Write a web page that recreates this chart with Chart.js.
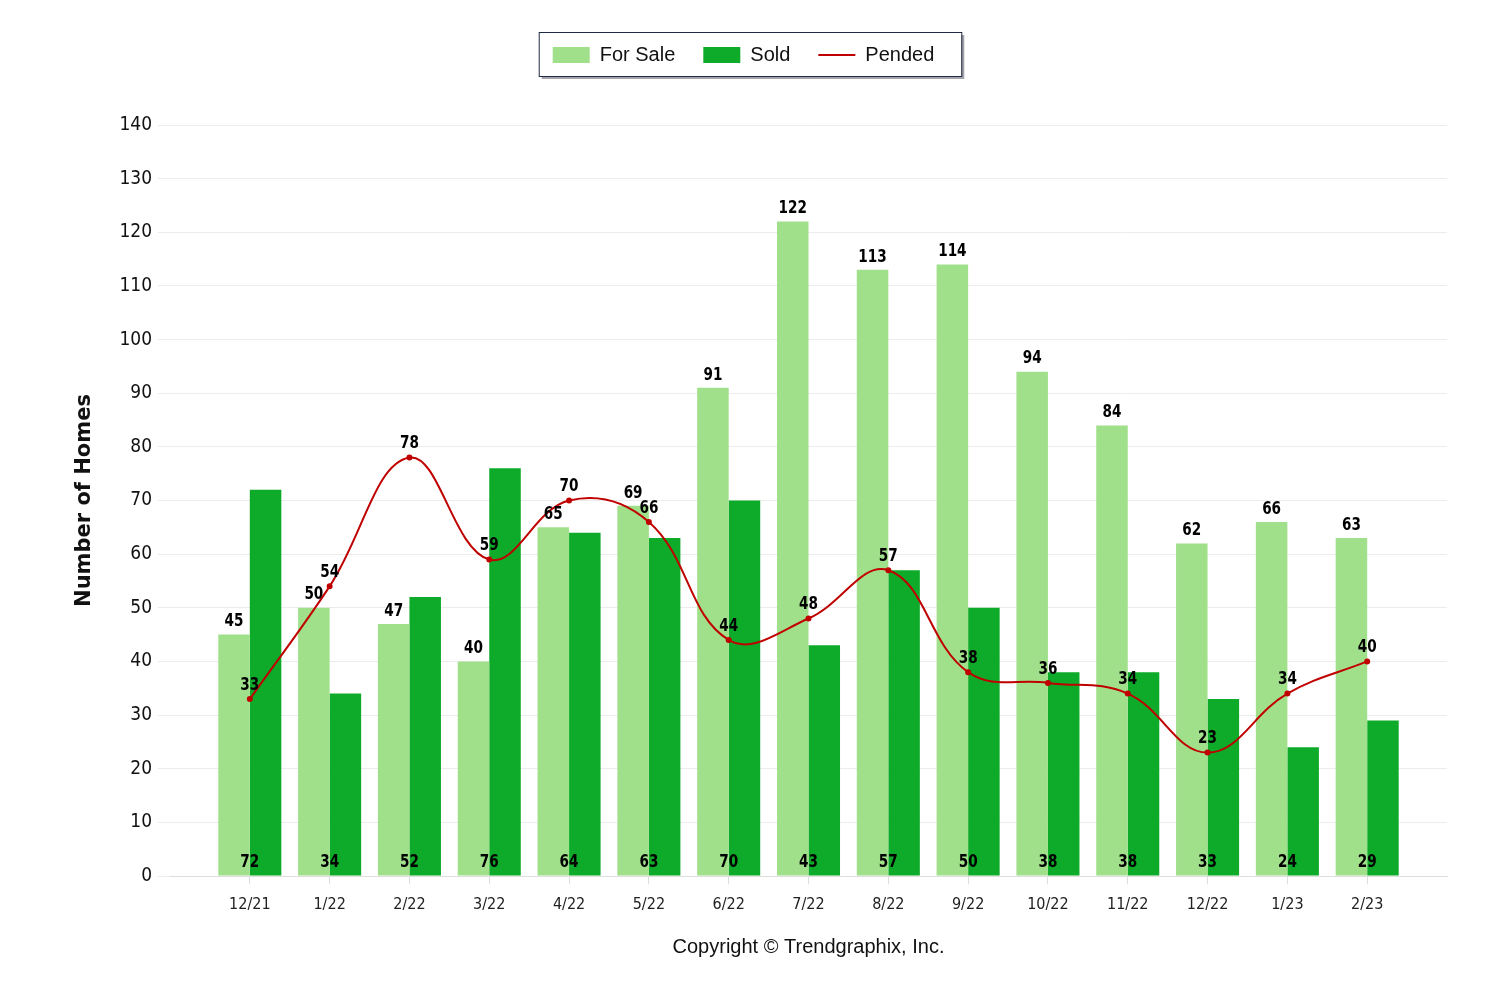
<!DOCTYPE html>
<html>
<head>
<meta charset="utf-8">
<script src="https://cdn.jsdelivr.net/npm/chart.js@4/dist/chart.umd.min.js"></script>
<style>
  html, body { margin: 0; padding: 0; background: #fff; }
  #wrap { width: 1500px; height: 1000px; }
</style>
</head>
<body>
<div id="wrap"><canvas id="homesChart" width="1500" height="1000"></canvas></div>
<script>
const months = ["12/21", "1/22", "2/22", "3/22", "4/22", "5/22", "6/22", "7/22", "8/22", "9/22", "10/22", "11/22", "12/22", "1/23", "2/23"];
const forSale = [45, 50, 47, 40, 65, 69, 91, 122, 113, 114, 94, 84, 62, 66, 63];
const sold = [72, 34, 52, 76, 64, 63, 70, 43, 57, 50, 38, 38, 33, 24, 29];
const pended = [33, 54, 78, 59, 70, 66, 44, 48, 57, 38, 36, 34, 23, 34, 40];

const narrow = '"DejaVu Sans Condensed", "Liberation Sans Narrow", "DejaVu Sans", sans-serif';

function points(arr) {
  return arr.map((v, i) => ({ x: i, y: v }));
}

// make the legend block tall so the plot starts lower
const legendSpace = {
  id: "legendSpace",
  beforeInit(chart) {
    const fit = chart.legend.fit;
    chart.legend.fit = function () {
      fit.bind(chart.legend)();
      this.height = 108;
    };
  }
};

function label(ctx, txt, x, y) {
  ctx.save();
  ctx.translate(x, y);
  ctx.scale(0.84, 1);
  ctx.fillText(txt, 0, 0);
  ctx.restore();
}

// value labels + legend frame + copyright
const extras = {
  id: "extras",
  afterDatasetsDraw(chart) {
    const ctx = chart.ctx;
    const xs = chart.scales.x;
    const ys = chart.scales.y;
    ctx.save();
    ctx.fillStyle = "#000";
    ctx.font = "bold 18px " + narrow;
    ctx.textAlign = "center";

    ctx.textBaseline = "bottom";
    chart.getDatasetMeta(0).data.forEach((el, i) => {
      label(ctx, String(forSale[i]), el.x, el.y - 4);
    });

    ctx.textBaseline = "middle";
    sold.forEach((v, i) => {
      label(ctx, String(v), xs.getPixelForValue(i), ys.getPixelForValue(0) - 14);
    });

    ctx.textBaseline = "bottom";
    chart.getDatasetMeta(2).data.forEach((el, i) => {
      label(ctx, String(pended[i]), el.x, el.y - 5);
    });
    ctx.restore();
  },
  afterDraw(chart) {
    const ctx = chart.ctx;
    const boxes = chart.legend.legendHitBoxes;
    if (boxes && boxes.length) {
      const first = boxes[0];
      const last = boxes[boxes.length - 1];
      const l = first.left - 14;
      const r = last.left + last.width + 27;
      const t = first.top - 13;
      const b = first.top + first.height + 11;
      ctx.save();
      ctx.fillStyle = "rgba(90,90,100,0.55)";
      ctx.fillRect(l + 3, t + 3, r - l, b - t);
      ctx.fillStyle = "#fff";
      ctx.fillRect(l, t, r - l, b - t);
      ctx.strokeStyle = "#1f2a44";
      ctx.lineWidth = 1;
      ctx.strokeRect(l + 0.5, t + 0.5, r - l, b - t);
      ctx.restore();
      // redraw legend on top of the frame
      chart.legend.draw();
    }

    const ca = chart.chartArea;
    ctx.save();
    ctx.fillStyle = "#111";
    ctx.font = '20px "Liberation Sans", Arial, sans-serif';
    ctx.textAlign = "center";
    ctx.textBaseline = "middle";
    ctx.fillText("Copyright \u00A9 Trendgraphix, Inc.", (ca.left + ca.right) / 2, 947);
    ctx.restore();
  }
};

new Chart(document.getElementById("homesChart"), {
  type: "bar",
  data: {
    datasets: [
      {
        label: "For Sale",
        data: points(forSale),
        backgroundColor: "#a1e08a",
        borderWidth: 0,
        order: 1
      },
      {
        label: "Sold",
        data: points(sold),
        backgroundColor: "#0dab29",
        borderWidth: 0,
        order: 1
      },
      {
        type: "line",
        label: "Pended",
        data: points(pended),
        borderColor: "#c00000",
        backgroundColor: "#c00000",
        borderWidth: 2,
        pointRadius: 2,
        pointHoverRadius: 3,
        tension: 0.4,
        fill: false,
        order: 0
      }
    ]
  },
  options: {
    responsive: false,
    animation: false,
    devicePixelRatio: 1,
    layout: { padding: { top: 17, left: 40, right: 53, bottom: 84 } },
    datasets: {
      bar: { categoryPercentage: 0.79, barPercentage: 1 }
    },
    plugins: {
      tooltip: { enabled: false },
      legend: {
        position: "top",
        align: "center",
        labels: {
          usePointStyle: true,
          pointStyleWidth: 37,
          boxHeight: 16,
          padding: 28,
          color: "#111",
          font: { family: '"Liberation Sans", Arial, sans-serif', size: 20 },
          sort: (a, b) => a.datasetIndex - b.datasetIndex,
          generateLabels(chart) {
            const items = Chart.defaults.plugins.legend.labels.generateLabels(chart);
            items.forEach(it => {
              it.pointStyle = it.datasetIndex === 2 ? "line" : "rect";
              if (it.datasetIndex !== 2) it.lineWidth = 0;
            });
            return items;
          }
        }
      }
    },
    scales: {
      x: {
        type: "linear",
        offset: false,
        min: -1,
        max: 15,
        afterFit(scale) { scale.height = 40; },
        afterBuildTicks(scale) {
          scale.ticks = months.map((m, i) => ({ value: i }));
        },
        ticks: {
          stepSize: 1,
          autoSkip: false,
          maxRotation: 0,
          padding: 11,
          color: "#222",
          font: { family: narrow, size: 16 },
          callback: (v) => months[v] !== undefined ? months[v] : ""
        },
        grid: { offset: false, drawOnChartArea: false, drawTicks: true, tickLength: 8, color: "#dddddd" },
        border: { color: "#dddddd" }
      },
      y: {
        min: 0,
        max: 140,
        afterFit(scale) { scale.width = 130; },
        ticks: {
          stepSize: 10,
          padding: 6,
          color: "#111",
          font: { family: narrow, size: 19 }
        },
        grid: { color: "#ececec", tickLength: 12, drawTicks: true },
        border: { display: false },
        title: {
          display: true,
          text: "Number of Homes",
          color: "#111",
          padding: { top: 32, bottom: 0 },
          font: { family: '"DejaVu Sans", Verdana, sans-serif', size: 21, weight: "bold" }
        }
      }
    }
  },
  plugins: [legendSpace, extras]
});
</script>
</body>
</html>
